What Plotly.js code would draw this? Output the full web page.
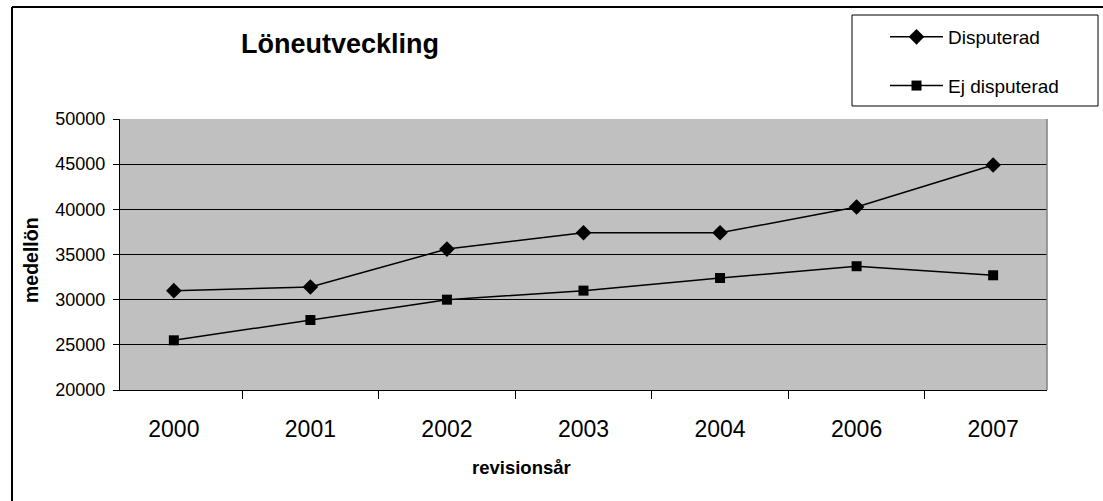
<!DOCTYPE html>
<html>
<head>
<meta charset="utf-8">
<script src="https://cdn.plot.ly/plotly-3.0.1.min.js"></script>
<style>
html, body { margin: 0; padding: 0; background: #fff; }
#chart { width: 1103px; height: 501px; }
</style>
</head>
<body>
<div id="chart"></div>
<script>
const years = ['2000', '2001', '2002', '2003', '2004', '2006', '2007'];
const disputerad = [31000, 31400, 35600, 37400, 37400, 40250, 44900];
const ejDisputerad = [25500, 27750, 30000, 31000, 32400, 33700, 32700];
const seriesNames = ['Disputerad', 'Ej disputerad'];
const yTicks = [20000, 25000, 30000, 35000, 40000, 45000, 50000];

const FONT = 'Arial, "Liberation Sans", sans-serif';

const traces = [
  {
    x: years, y: disputerad, name: seriesNames[0], type: 'scatter', mode: 'lines+markers',
    line: { color: '#000', width: 1.5 },
    marker: { symbol: 'diamond', size: 12, color: '#000' },
    legendgroup: 'a'
  },
  {
    x: years, y: ejDisputerad, name: seriesNames[1], type: 'scatter', mode: 'lines+markers',
    line: { color: '#000', width: 1.5 },
    marker: { symbol: 'square', size: 10, color: '#000' },
    legendgroup: 'b'
  }
];

const layout = {
  width: 1103, height: 501,
  margin: { l: 120, r: 56, t: 119, b: 111, pad: 0 },
  paper_bgcolor: '#fff',
  plot_bgcolor: '#c0c0c0',
  font: { family: FONT, color: '#000' },
  title: {
    text: '<b>Löneutveckling</b>',
    font: { family: FONT, size: 27, color: '#000' },
    xref: 'container', yref: 'container',
    x: 340 / 1103, xanchor: 'center',
    y: 1 - 44 / 501, yanchor: 'middle'
  },
  xaxis: {
    type: 'category',
    categoryorder: 'array', categoryarray: years,
    tickson: 'boundaries',
    ticks: 'outside', ticklen: 8, tickcolor: '#000', tickwidth: 1,
    showline: true, linecolor: '#000', linewidth: 1,
    showgrid: false, zeroline: false,
    tickfont: { family: FONT, size: 23, color: '#000' },
    ticklabelstandoff: 18,
    fixedrange: true
  },
  yaxis: {
    range: [20000, 50000],
    tickvals: yTicks,
    ticktext: yTicks.map(String),
    ticks: 'outside', ticklen: 6, tickcolor: '#000', tickwidth: 1,
    showline: true, linecolor: '#000', linewidth: 1,
    showgrid: true, gridcolor: '#000', gridwidth: 1,
    zeroline: false,
    tickfont: { family: FONT, size: 18, color: '#000' },
    ticklabelstandoff: 4,
    fixedrange: true
  },
  showlegend: true,
  legend: {
    x: (885 - 120) / 927, xanchor: 'left',
    y: (390 - 18) / 271, yanchor: 'top',
    bgcolor: 'rgba(0,0,0,0)', borderwidth: 0,
    font: { family: FONT, size: 19, color: '#000' },
    itemwidth: 53,
    tracegroupgap: 21
  },
  shapes: [
    { type: 'line', xref: 'paper', yref: 'paper', x0: (12 - 120) / 927, x1: 1.07, y0: (390 - 7) / 271, y1: (390 - 7) / 271, line: { color: '#000', width: 2 } },
    { type: 'line', xref: 'paper', yref: 'paper', x0: (12 - 120) / 927, x1: (12 - 120) / 927, y0: (390 - 7) / 271, y1: -0.45, line: { color: '#000', width: 2 } },
    { type: 'line', xref: 'paper', yref: 'paper', x0: 1, x1: 1, y0: 0, y1: 1, line: { color: '#808080', width: 1.5 } },
    { type: 'rect', xref: 'paper', yref: 'paper', x0: (852 - 120) / 927, x1: (1098 - 120) / 927, y0: (390 - 106) / 271, y1: (390 - 15) / 271, line: { color: '#000', width: 1 }, fillcolor: 'rgba(0,0,0,0)' }
  ],
  annotations: [
    { text: '<b>revisionsår</b>', xref: 'paper', yref: 'paper', x: (521 - 120) / 927, y: (390 - 467) / 271, xanchor: 'center', yanchor: 'middle', showarrow: false, font: { family: FONT, size: 18.5, color: '#000' } },
    { text: '<b>medellön</b>', xref: 'paper', yref: 'paper', x: (31 - 120) / 927, y: (390 - 260) / 271, xanchor: 'center', yanchor: 'middle', textangle: -90, showarrow: false, font: { family: FONT, size: 19.5, color: '#000' } }
  ]
};

Plotly.newPlot('chart', traces, layout, { displayModeBar: false, staticPlot: true });
</script>
</body>
</html>
